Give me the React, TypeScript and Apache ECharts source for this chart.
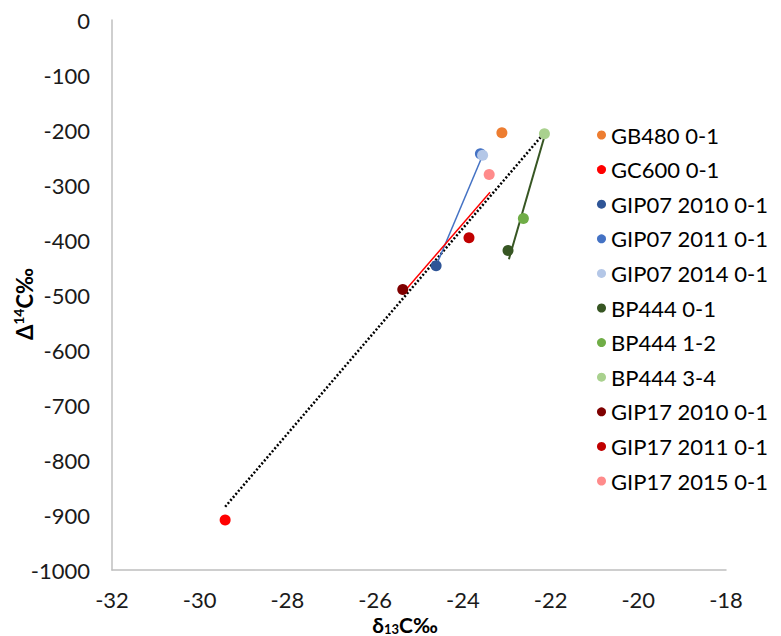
import React, { useEffect, useRef } from "react";
import * as echarts from "echarts";

const seriesNames = [
  "GB480 0-1",
  "GC600 0-1",
  "GIP07 2010 0-1",
  "GIP07 2011 0-1",
  "GIP07 2014 0-1",
  "BP444 0-1",
  "BP444 1-2",
  "BP444 3-4",
  "GIP17 2010 0-1",
  "GIP17 2011 0-1",
  "GIP17 2015 0-1",
];
const seriesColors = [
  "#ED7D31",
  "#FF0000",
  "#2F5597",
  "#4472C4",
  "#B4C7E7",
  "#375623",
  "#70AD47",
  "#A9D18E",
  "#7F0000",
  "#C00000",
  "#FF8B8B",
];
const pointX = [-23.11, -29.42, -24.61, -23.6, -23.55, -22.97, -22.62, -22.14, -25.37, -23.86, -23.4];
const pointY = [-205, -909, -447, -243, -246, -419, -361, -207, -490, -396, -281];

const trendAll = [[-29.42, -885], [-22.14, -205]];
const trendGIP07 = [[-24.6, -445], [-23.57, -250]];
const trendBP444 = [[-22.95, -435], [-22.13, -209]];
const trendGIP17 = [[-25.37, -497], [-23.38, -313]];

const xTicks = { min: -32, max: -18, interval: 2 };
const yTicks = { min: -1000, max: 0, interval: 100 };

const FONT = "Lato";

export default function App() {
  const ref = useRef<HTMLDivElement>(null);
  useEffect(() => {
    if (!ref.current) return;
    const chart = echarts.init(ref.current, null, { renderer: "svg" });
    const scatter = seriesNames.map((name, i) => ({
      name,
      type: "scatter",
      data: [[pointX[i], pointY[i]]],
      symbol: "circle",
      symbolSize: 11,
      itemStyle: { color: seriesColors[i], opacity: 1 },
      z: 5,
    }));
    const trend = (data: number[][], color: string, width: number, type: any) => ({
      type: "line",
      data,
      symbol: "none",
      silent: true,
      lineStyle: { color, width, type },
      z: 3,
    });
    chart.setOption({
      animation: false,
      backgroundColor: "#ffffff",
      textStyle: { fontFamily: FONT },
      grid: { left: 112, right: 55, top: 20, bottom: 66, containLabel: false },
      xAxis: {
        type: "value",
        min: xTicks.min,
        max: xTicks.max,
        interval: xTicks.interval,
        splitLine: { show: false },
        axisTick: { show: false },
        axisLine: { show: true, onZero: false, lineStyle: { color: "#BFBFBF", width: 1.5 } },
        axisLabel: { color: "#1a1a1a", fontSize: 22, fontFamily: FONT, margin: 18, formatter: (v: number) => String(v) },
      },
      yAxis: {
        type: "value",
        min: yTicks.min,
        max: yTicks.max,
        interval: yTicks.interval,
        splitLine: { show: false },
        axisTick: { show: false },
        axisLine: { show: true, onZero: false, lineStyle: { color: "#BFBFBF", width: 1.5 } },
        axisLabel: { color: "#1a1a1a", fontSize: 22, fontFamily: FONT, margin: 22, formatter: (v: number) => String(v) },
      },
      legend: {
        orient: "vertical",
        left: 592,
        top: 119,
        icon: "circle",
        itemWidth: 9,
        itemHeight: 9,
        itemGap: 12.6,
        data: seriesNames,
        textStyle: { color: "#000", fontSize: 22, fontFamily: FONT, lineHeight: 22 },
        selectedMode: false,
      },
      graphic: [
        {
          type: "text",
          x: 405,
          y: 624,
          style: {
            text: "{b|δ}{s|13}{b|C‰}",
            align: "center",
            verticalAlign: "middle",
            fill: "#000",
            rich: {
              b: { fontSize: 21, fontWeight: "bold", fontFamily: FONT, lineHeight: 22, verticalAlign: "middle", fill: "#000" },
              s: { fontSize: 13, fontWeight: "bold", fontFamily: FONT, lineHeight: 13, verticalAlign: "bottom", fill: "#000" },
            },
          },
        },
        {
          type: "text",
          x: 24,
          y: 304,
          rotation: Math.PI / 2,
          style: {
            text: "{b|Δ}{s|14}{b|C‰}",
            align: "center",
            verticalAlign: "middle",
            fill: "#000",
            rich: {
              b: { fontSize: 22, fontWeight: "bold", fontFamily: FONT, lineHeight: 26, verticalAlign: "middle", fill: "#000" },
              s: { fontSize: 14, fontWeight: "bold", fontFamily: FONT, lineHeight: 14, verticalAlign: "top", fill: "#000" },
            },
          },
        },
      ],
      series: [
        trend(trendAll, "#000000", 2.5, [2, 2]),
        trend(trendGIP07, "#4472C4", 1.5, "solid"),
        trend(trendBP444, "#375623", 2, "solid"),
        trend(trendGIP17, "#FF0000", 1.5, "solid"),
        ...scatter,
      ],
    });
    return () => chart.dispose();
  }, []);
  return (
    <div
      ref={ref}
      style={{ position: "fixed", left: 0, top: 0, width: 781, height: 636 }}
    />
  );
}
